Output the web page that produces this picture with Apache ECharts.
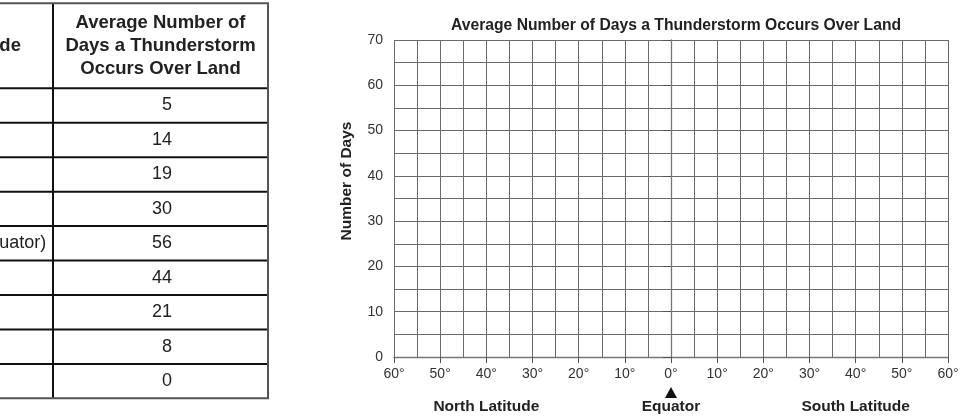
<!DOCTYPE html>
<html>
<head>
<meta charset="utf-8">
<title>Average Number of Days a Thunderstorm Occurs Over Land</title>
<script src="https://cdn.jsdelivr.net/npm/echarts@6/dist/echarts.min.js"></script>
<style>
	html, body { margin: 0; padding: 0; background: #fff; }
	#chartMain { width: 962px; height: 420px; }
</style>
</head>
<body>
<div id="chartMain"></div>
<script>
// table data
var tableHeaders = ['Latitude', 'Average Number of\nDays a Thunderstorm\nOccurs Over Land'];
var latitudes = ['60° N', '45° N', '30° N', '15° N', '0° (Equator)', '15° S', '30° S', '45° S', '60° S'];
var stormDays = [5, 14, 19, 30, 56, 44, 21, 8, 0];

// blank grid: axis range and labels under the x axis
var xRange = [-60, 60];
var yRange = [0, 70];
var bandNames = ['North Latitude', 'Equator', 'South Latitude'];
var bandAt = [-40, 0, 40];

var FONT = '"Liberation Sans", Arial, Helvetica, sans-serif';

function buildTable(){
	var left = -60, split = 53, right = 268;
	var top = 3.3, headH = 85, rowH = 34.45;
	var els = [];
	var bottom = top + headH + rowH * stormDays.length;
	// cell texts
	els.push({type: 'text', x: -51, y: top + headH / 2, style: {text: tableHeaders[0], font: 'bold 18.5px ' + FONT, fill: '#222', align: 'left', verticalAlign: 'middle'}});
	els.push({type: 'text', x: 160.5, y: top + headH / 2, style: {text: tableHeaders[1], font: 'bold 18.5px ' + FONT, fill: '#222', align: 'center', verticalAlign: 'middle', lineHeight: 23}});
	for (var i = 0; i < stormDays.length; i++) {
		var cy = top + headH + rowH * (i + 0.5);
		els.push({type: 'text', x: -51, y: cy, style: {text: latitudes[i], font: '18px ' + FONT, fill: '#222', align: 'left', verticalAlign: 'middle'}});
		els.push({type: 'text', x: 172, y: cy, style: {text: String(stormDays[i]), font: '18px ' + FONT, fill: '#222', align: 'right', verticalAlign: 'middle'}});
		if (i < stormDays.length - 1) {
			var ly = top + headH + rowH * (i + 1);
			els.push({type: 'line', shape: {x1: left, y1: ly, x2: right, y2: ly}, style: {stroke: '#111', lineWidth: 2}});
		}
	}
	els.push({type: 'line', shape: {x1: left, y1: top + headH, x2: right, y2: top + headH}, style: {stroke: '#111', lineWidth: 2}});
	els.push({type: 'line', shape: {x1: split, y1: top, x2: split, y2: bottom}, style: {stroke: '#111', lineWidth: 2}});
	els.push({type: 'rect', shape: {x: left, y: top, width: right - left, height: bottom - top}, style: {fill: 'none', stroke: '#555', lineWidth: 2}});
	return els;
}

function buildNotes(chart){
	var els = [];
	var base = chart.convertToPixel({gridIndex: 0}, [0, 0]);
	for (var i = 0; i < bandNames.length; i++) {
		var p = chart.convertToPixel({gridIndex: 0}, [bandAt[i], 0]);
		els.push({type: 'text', x: p[0], y: p[1] + 50, style: {text: bandNames[i], font: 'bold 15.5px ' + FONT, fill: '#222', align: 'center', verticalAlign: 'middle'}});
	}
	// arrow pointing at the equator
	els.push({type: 'polygon', shape: {points: [[base[0] - 6, base[1] + 41], [base[0] + 6, base[1] + 41], [base[0], base[1] + 30]]}, style: {fill: '#111'}});
	els.push({type: 'text', x: 347, y: 181, rotation: Math.PI / 2, style: {text: 'Number of Days', font: 'bold 15.5px ' + FONT, fill: '#222', align: 'center', verticalAlign: 'middle'}});
	return els;
}

function axisStyle(){
	return {
		axisLine: {show: true, lineStyle: {color: '#777', width: 1.3}},
		axisTick: {show: true, length: 6, lineStyle: {color: '#555'}},
		splitLine: {show: true, lineStyle: {color: '#6a6a6a', width: 1}},
		minorTick: {show: false, splitNumber: 2},
		minorSplitLine: {show: true, lineStyle: {color: '#6a6a6a', width: 1}}
	};
}

function chartInit(){
	var chart = echarts.init(document.getElementById('chartMain'));
	var xAxis = $extend(axisStyle(), {
		type: 'value', min: xRange[0], max: xRange[1], interval: 10,
		axisLabel: {margin: 10, fontSize: 14, color: '#333', formatter: function(v){ return Math.abs(v) + '°'; }}
	});
	var yAxis = $extend(axisStyle(), {
		type: 'value', min: yRange[0], max: yRange[1], interval: 10,
		axisLabel: {margin: 11, fontSize: 14, color: '#333'}
	});
	yAxis.axisTick.length = 8;
	chart.setOption({
		animation: false,
		textStyle: {fontFamily: FONT},
		title: {
			text: 'Average Number of Days a Thunderstorm Occurs Over Land',
			left: 671, top: 13, textAlign: 'center',
			textStyle: {fontSize: 15.7, fontWeight: 'bold', color: '#222', fontFamily: FONT}
		},
		grid: {left: 394, right: 14, top: 40, bottom: 63, containLabel: false, outerBoundsMode: 'none'},
		xAxis: xAxis,
		yAxis: yAxis,
		series: [{type: 'line', data: []}]
	});
	var zero = chart.convertToPixel({gridIndex: 0}, [0, 0]);
	chart.setOption({
		title: {left: zero[0]},
		graphic: buildTable().concat(buildNotes(chart))
	});
}

function $extend(a, b){
	for (var k in b) a[k] = b[k];
	return a;
}

chartInit();
</script>
</body>
</html>
